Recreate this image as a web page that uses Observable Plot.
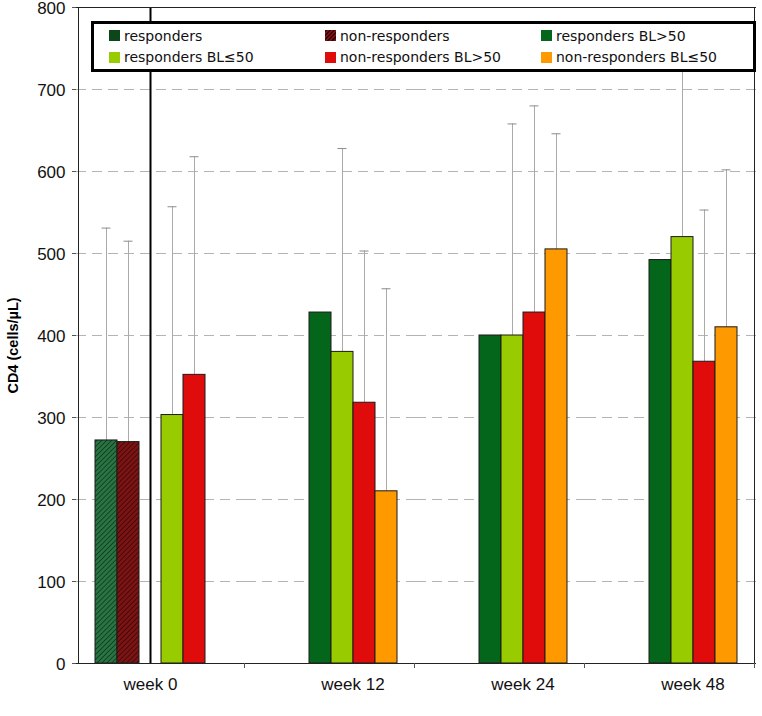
<!DOCTYPE html>
<html>
<head>
<meta charset="utf-8">
<script src="https://cdn.jsdelivr.net/npm/d3@7"></script>
<script src="https://cdn.jsdelivr.net/npm/@observablehq/plot@0.6"></script>
<style>
  html, body { margin: 0; padding: 0; background: #fff; }
  #wrap { position: relative; width: 762px; height: 716px; }
  #legend {
    position: absolute; left: 91px; top: 21px; width: 644px; height: 44px;
    border: 3px solid #000; background: #fff;
    font-family: "DejaVu Sans", Verdana, sans-serif; font-size: 14px; color: #111;
    display: grid; grid-template-columns: 216px 216px auto; grid-template-rows: 21.6px 21.6px;
    padding-left: 15px; padding-top: 1px; box-sizing: content-box;
  }
  #legend .item { display: flex; align-items: center; white-space: nowrap; }
  #legend .sw { width: 11px; height: 11px; margin-right: 4px; flex: none; }
</style>
</head>
<body>
<div id="wrap"><div id="chart"></div><div id="legend"></div></div>
<script>
// ---- data ----
const weeks = ["week 0", "week 12", "week 24", "week 48"];
const series = ["responders", "non-responders", "responders BL>50", "responders BL\u226450", "non-responders BL>50", "non-responders BL\u226450"];

// mean CD4 (cells/µL) per week, null = not shown
const responders        = [272, null, null, null];
const nonResponders     = [270, null, null, null];
const respondersBLgt50  = [null, 428, 400, 492];
const respondersBLle50  = [303, 380, 400, 520];
const nonRespBLgt50     = [352, 318, 428, 368];
const nonRespBLle50     = [null, 210, 505, 410];

// upper end of the error bars
const respondersUp        = [531, null, null, null];
const nonRespondersUp     = [515, null, null, null];
const respondersBLgt50Up  = [null, null, null, null];
const respondersBLle50Up  = [557, 628, 658, 750];
const nonRespBLgt50Up     = [618, 503, 680, 553];
const nonRespBLle50Up     = [null, 457, 646, 602];

const yTicks = [0, 100, 200, 300, 400, 500, 600, 700, 800];

const fills = ["url(#hatchG)", "url(#hatchR)", "#04661a", "#99cc00", "#e00b0b", "#ff9900"];
const legendSwatch = ["#0c461b", "repeating-linear-gradient(135deg,#3a0606 0 1.5px,#7d1414 1.5px 3px)", "#04661a", "#99cc00", "#e00b0b", "#ff9900"];

const valueLists = [responders, nonResponders, respondersBLgt50, respondersBLle50, nonRespBLgt50, nonRespBLle50];
const upperLists = [respondersUp, nonRespondersUp, respondersBLgt50Up, respondersBLle50Up, nonRespBLgt50Up, nonRespBLle50Up];

const rows = [];
series.forEach((s, si) => weeks.forEach((w, wi) => {
  const v = valueLists[si][wi];
  if (v != null) rows.push({week: w, series: s, value: v, upper: upperLists[si][wi]});
}));
const errRows = rows.filter(d => d.upper != null);

const chart = Plot.plot({
  width: 762,
  height: 716,
  marginTop: 7,
  marginBottom: 53,
  marginLeft: 74,
  marginRight: 5,
  style: {fontFamily: "'Liberation Sans', Arial, sans-serif", fontSize: "17px", color: "#111", background: "#fff", overflow: "visible"},
  fx: {domain: weeks, padding: 0, axis: null},
  x: {domain: series, paddingInner: 0, paddingOuter: 0.717, axis: null},
  y: {domain: [0, 800], label: null, axis: null},
  color: {domain: series, range: fills},
  marks: [
    Plot.gridY(yTicks.filter(t => t > 0 && t < 800), {stroke: "#b4b4b4", strokeOpacity: 1, strokeDasharray: "10,6"}),
    Plot.ruleX(errRows, {fx: "week", x: "series", y1: "value", y2: "upper", stroke: "#aaaaaa", strokeWidth: 1}),
    Plot.tickY(errRows, {fx: "week", x: "series", y: "upper", stroke: "#8c8c8c", strokeWidth: 1, insetLeft: 6.5, insetRight: 6.5}),
    Plot.barY(rows, {fx: "week", x: "series", y: "value", fill: "series", stroke: "#1a1a1a", strokeWidth: 1}),
    // separator inside week 0
    Plot.ruleX([{week: "week 0", series: series[2]}], {fx: "week", x: "series", stroke: "#000", strokeWidth: 2}),
    // frame: bottom & top
    Plot.ruleY([0], {stroke: "#222"}),
    Plot.ruleY([800], {stroke: "#222"}),
    // left & right edge of frame
    Plot.ruleX([weeks[0]], {fx: d => d, x: () => series[0], dx: -28, stroke: "#222"}),
    Plot.ruleX([weeks[3]], {fx: d => d, x: () => series[5], dx: 28, stroke: "#222"}),
    // category boundary ticks
    Plot.ruleX(weeks, {fx: d => d, x: () => series[5], dx: 28, y1: 0, y2: 0, insetBottom: -5, stroke: "#555"}),
    Plot.axisY(yTicks, {tickSize: 4, tickPadding: 7, fontSize: 17, stroke: "#555", fill: "#111", label: null, textStroke: "none"}),
    // x labels
    Plot.text([weeks[0]], {fx: d => d, x: () => series[2], text: d => d, frameAnchor: "bottom", dy: 26, fontSize: 17, fill: "#111"}),
    Plot.text(weeks.slice(1), {fx: d => d, x: () => series[4], text: d => d, frameAnchor: "bottom", dx: -11.5, dy: 26, fontSize: 17, fill: "#111"}),
    // y title
    Plot.text([weeks[0]], {fx: d => d, text: () => "CD4 (cells/\u00b5L)", frameAnchor: "left", textAnchor: "middle", rotate: -90, dx: -63, dy: 10, fontWeight: "bold", fontSize: 14.5, fill: "#000"})
  ]
});

// nudge y tick labels down a hair so the top label stays inside the picture
d3.select(chart).selectAll("[aria-label='y-axis tick label']").attr("transform", function() {
  const t = d3.select(this).attr("transform") || "";
  return t + " translate(0,1.5)";
});

// hatch patterns
const defs = d3.select(chart).insert("defs", ":first-child");
function hatch(id, base, line) {
  const p = defs.append("pattern").attr("id", id).attr("patternUnits", "userSpaceOnUse")
    .attr("width", 3.5).attr("height", 3.5).attr("patternTransform", "rotate(45)");
  p.append("rect").attr("width", 3.5).attr("height", 3.5).attr("fill", base);
  p.append("line").attr("x1", 0).attr("y1", 0).attr("x2", 0).attr("y2", 3.5).attr("stroke", line).attr("stroke-width", 1.6);
}
hatch("hatchG", "#2a7444", "#0b3a1b");
hatch("hatchR", "#7d1414", "#3a0606");

document.getElementById("chart").appendChild(chart);

// legend (2 rows x 3 columns, same order as reference)
const legend = d3.select("#legend");
series.forEach((s, i) => {
  const it = legend.append("div").attr("class", "item");
  it.append("div").attr("class", "sw").style("background", legendSwatch[i]);
  it.append("span").text(s);
});
</script>
</body>
</html>
